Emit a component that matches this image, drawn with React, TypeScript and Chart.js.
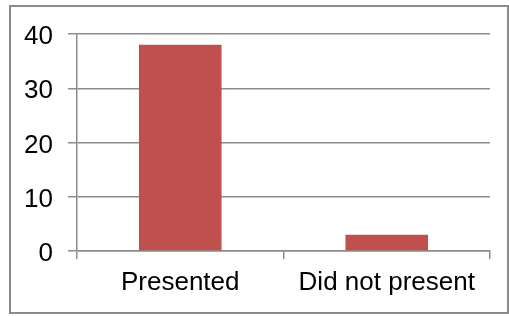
import { useEffect, useRef } from "react";
import { Chart, registerables } from "chart.js";

Chart.register(...registerables);

const categories = ["Presented", "Did not present"];
const seriesValues = [38, 3];
const yTicks = [0, 10, 20, 30, 40];

export default function App() {
  const ref = useRef<HTMLCanvasElement | null>(null);

  useEffect(() => {
    if (!ref.current) return;
    const chart = new Chart(ref.current, {
      type: "bar",
      data: {
        labels: categories,
        datasets: [
          {
            data: seriesValues,
            backgroundColor: "#C0504D",
            borderWidth: 0,
            categoryPercentage: 1,
            barPercentage: 0.4,
          },
        ],
      },
      options: {
        animation: false,
        responsive: false,
        maintainAspectRatio: false,
        layout: { padding: { left: 0, right: 17, top: 27, bottom: 0 } },
        plugins: { legend: { display: false }, tooltip: { enabled: false } },
        scales: {
          x: {
            grid: {
              offset: true,
              drawOnChartArea: false,
              drawTicks: true,
              tickLength: 8,
              color: "#8c8c8c",
              lineWidth: 1.5,
            },
            border: { color: "#8c8c8c", width: 1.5 },
            ticks: {
              color: "#000",
              padding: 8,
              font: { family: "Liberation Sans", size: 26 },
              maxRotation: 0,
            },
            afterFit: (s: any) => {
              s.height = 61;
              s.paddingLeft = 0;
              s.paddingRight = 0;
            },
          },
          y: {
            min: 0,
            max: 40,
            afterBuildTicks: (s: any) => {
              s.ticks = yTicks.map((v) => ({ value: v }));
            },
            grid: {
              color: "#8c8c8c",
              lineWidth: 1.5,
              tickLength: 9,
            },
            border: { color: "#8c8c8c", width: 1.5 },
            ticks: {
              color: "#000",
              padding: 15,
              labelOffset: 3,
              font: { family: "Liberation Sans", size: 26 },
            },
            afterFit: (s: any) => {
              s.width = 66;
              s.paddingTop = 0;
              s.paddingBottom = 0;
            },
          },
        },
      },
    });
    return () => chart.destroy();
  }, []);

  return (
    <div
      style={{
        position: "absolute",
        left: 9,
        top: 5,
        width: 500,
        height: 309,
        boxSizing: "border-box",
        border: "2px solid #8c8c8c",
        background: "#fff",
      }}
    >
      <canvas ref={ref} width={496} height={305} style={{ display: "block" }} />
    </div>
  );
}
